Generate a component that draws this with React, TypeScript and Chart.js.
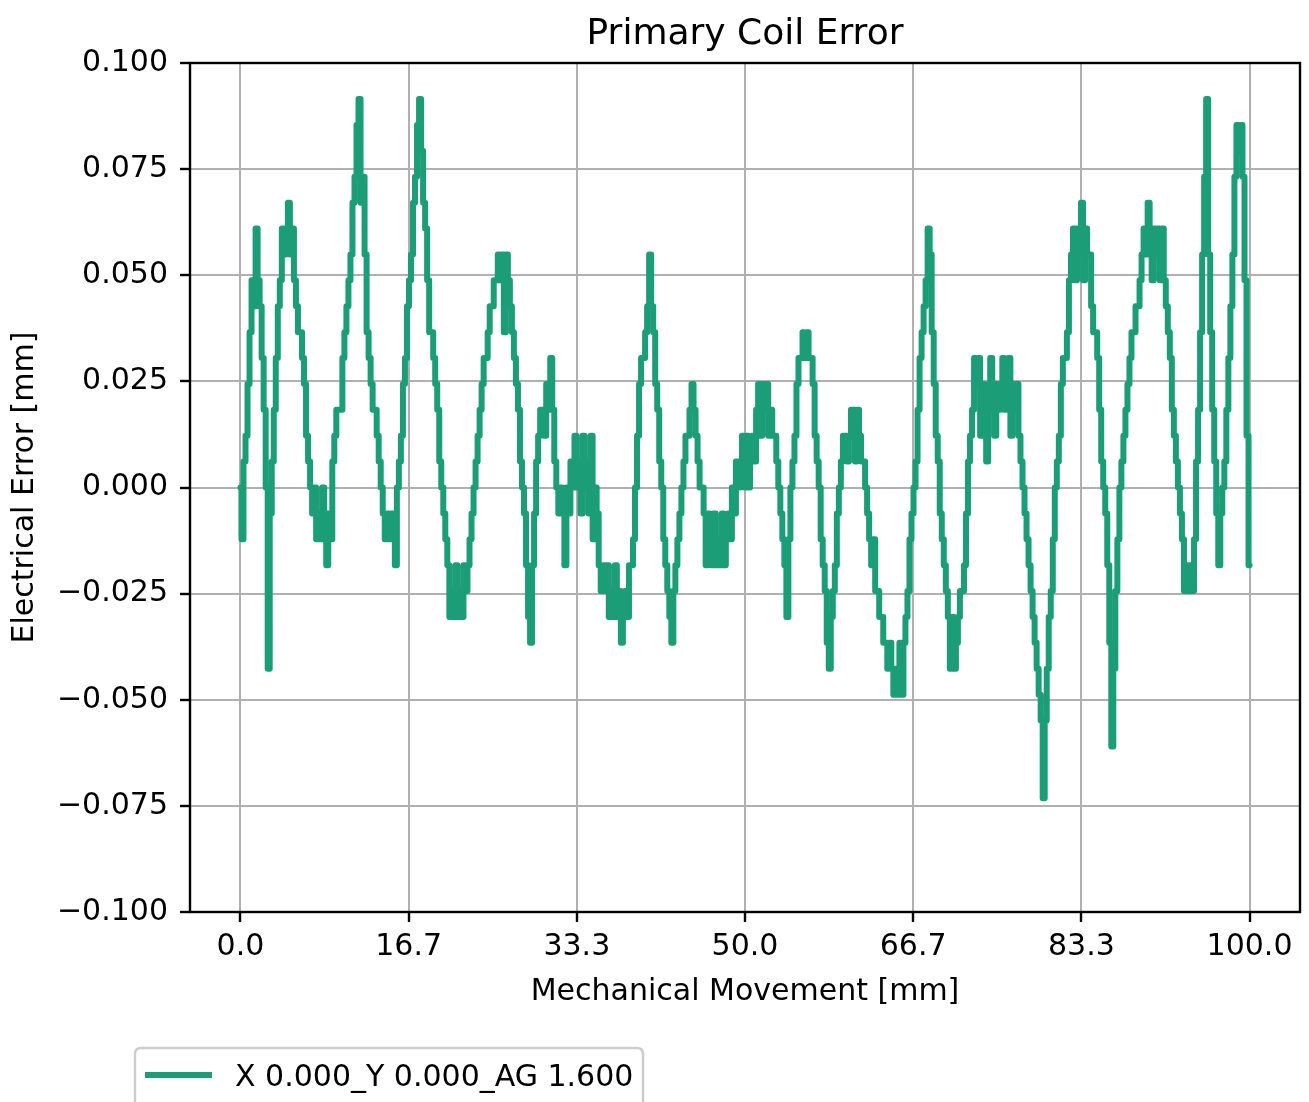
import React, { useEffect, useRef } from "react";
import { Chart, registerables } from "chart.js";

Chart.register(...registerables);

const CHART_TITLE = "Primary Coil Error";
const X_AXIS_TITLE = "Mechanical Movement [mm]";
const Y_AXIS_TITLE = "Electrical Error [mm]";
const SERIES_LABEL = "X 0.000_Y 0.000_AG 1.600";
const SERIES_COLOR = "#1b9e77";
const SAMPLE_STEP_MM = 0.2;

const xTickValues = [0, 16.6667, 33.3333, 50, 66.6667, 83.3333, 100];
const xTickLabels = ["0.0", "16.7", "33.3", "50.0", "66.7", "83.3", "100.0"];
const yTickValues = [-0.1, -0.075, -0.05, -0.025, 0, 0.025, 0.05, 0.075, 0.1];
const yTickLabels = ["\u22120.100", "\u22120.075", "\u22120.050", "\u22120.025", "0.000", "0.025", "0.050", "0.075", "0.100"];

// Electrical error [mm], sampled every 0.2 mm of mechanical movement
const error00to10 = [0, -0.0122, 0.0061, 0.0122, 0.0244, 0.0366, 0.0488, 0.0427, 0.061, 0.0488, 0.0427, 0.0305, 0.0183, 0, -0.0427, -0.0061, 0.0061, 0.0183, 0.0305, 0.0427, 0.0488, 0.061, 0.0549, 0.061, 0.0671, 0.0549, 0.061, 0.0488, 0.0427, 0.0366, 0.0366, 0.0305, 0.0244, 0.0122, 0.0061, 0, -0.0061, 0, -0.0122, -0.0061, -0.0122, 0, -0.0122, -0.0183, -0.0061, -0.0122, 0.0061, 0.0122, 0.0183, 0.0183];
const error10to20 = [0.0183, 0.0305, 0.0366, 0.0427, 0.0488, 0.0549, 0.0671, 0.0732, 0.0854, 0.0915, 0.0671, 0.0732, 0.0549, 0.0366, 0.0305, 0.0244, 0.0183, 0.0183, 0.0122, 0.0061, 0, -0.0061, -0.0122, -0.0061, -0.0122, -0.0061, -0.0122, -0.0183, 0, 0.0061, 0.0122, 0.0244, 0.0305, 0.0427, 0.0488, 0.0549, 0.0671, 0.0732, 0.0854, 0.0915, 0.0793, 0.0671, 0.061, 0.0488, 0.0366, 0.0366, 0.0305, 0.0244, 0.0183, 0.0061];
const error20to30 = [0, -0.0061, -0.0122, -0.0183, -0.0305, -0.0244, -0.0305, -0.0183, -0.0305, -0.0244, -0.0305, -0.0183, -0.0244, -0.0183, -0.0122, -0.0061, 0, 0.0061, 0.0122, 0.0183, 0.0244, 0.0305, 0.0305, 0.0366, 0.0427, 0.0427, 0.0488, 0.0488, 0.0549, 0.0488, 0.0549, 0.0366, 0.0549, 0.0488, 0.0427, 0.0366, 0.0305, 0.0244, 0.0183, 0.0061, 0, -0.0061, -0.0183, -0.0305, -0.0366, -0.0183, -0.0061, 0.0061, 0.0122, 0.0183];
const error30to40 = [0.0183, 0.0122, 0.0244, 0.0183, 0.0305, 0.0183, 0.0061, 0, -0.0061, 0, -0.0061, -0.0183, 0, -0.0061, 0.0061, 0, 0.0122, 0, 0.0061, -0.0061, 0.0122, 0, 0.0061, -0.0061, 0.0122, -0.0122, 0, -0.0061, -0.0183, -0.0244, -0.0183, -0.0244, -0.0183, -0.0305, -0.0244, -0.0305, -0.0183, -0.0305, -0.0244, -0.0366, -0.0305, -0.0244, -0.0305, -0.0183, -0.0183, -0.0122, 0, 0.0122, 0.0244, 0.0305];
const error40to50 = [0.0305, 0.0366, 0.0427, 0.0549, 0.0427, 0.0366, 0.0244, 0.0183, 0.0061, 0, -0.0122, -0.0183, -0.0244, -0.0305, -0.0366, -0.0244, -0.0183, -0.0122, -0.0061, 0, 0.0061, 0.0122, 0.0122, 0.0183, 0.0244, 0.0183, 0.0122, 0.0061, 0, 0, -0.0061, -0.0183, -0.0061, -0.0122, -0.0183, -0.0061, -0.0183, -0.0122, -0.0183, -0.0061, -0.0183, -0.0122, -0.0061, -0.0122, 0, -0.0061, 0.0061, 0, 0.0061, 0.0122];
const error50to60 = [0, 0.0122, 0, 0.0061, 0.0122, 0.0061, 0.0183, 0.0244, 0.0122, 0.0244, 0.0183, 0.0244, 0.0122, 0.0183, 0.0122, 0.0122, 0.0061, 0, -0.0061, -0.0122, -0.0183, -0.0305, -0.0122, 0, 0.0061, 0.0122, 0.0244, 0.0305, 0.0305, 0.0366, 0.0305, 0.0366, 0.0305, 0.0305, 0.0244, 0.0122, 0.0061, 0, -0.0122, -0.0183, -0.0244, -0.0366, -0.0427, -0.0305, -0.0244, -0.0183, -0.0061, 0, 0.0061, 0.0122];
const error60to70 = [0.0122, 0.0061, 0.0122, 0.0183, 0.0183, 0.0061, 0.0183, 0.0122, 0.0061, 0.0061, 0, -0.0061, -0.0122, -0.0183, -0.0122, -0.0244, -0.0244, -0.0305, -0.0305, -0.0366, -0.0366, -0.0427, -0.0366, -0.0427, -0.0488, -0.0427, -0.0488, -0.0366, -0.0488, -0.0366, -0.0305, -0.0244, -0.0122, -0.0061, 0, 0.0061, 0.0183, 0.0305, 0.0366, 0.0427, 0.0488, 0.061, 0.0549, 0.0366, 0.0244, 0.0122, 0.0061, -0.0061, -0.0122, -0.0183];
const error70to80 = [-0.0244, -0.0305, -0.0427, -0.0305, -0.0427, -0.0366, -0.0305, -0.0244, -0.0244, -0.0183, -0.0061, 0.0061, 0.0122, 0.0183, 0.0305, 0.0244, 0.0305, 0.0122, 0.0244, 0.0183, 0.0061, 0.0244, 0.0305, 0.0183, 0.0122, 0.0244, 0.0183, 0.0244, 0.0305, 0.0183, 0.0244, 0.0305, 0.0122, 0.0244, 0.0183, 0.0244, 0.0122, 0.0061, 0, -0.0061, -0.0122, -0.0183, -0.0244, -0.0305, -0.0366, -0.0427, -0.0488, -0.0549, -0.0732, -0.0549];
const error80to90 = [-0.0427, -0.0305, -0.0244, -0.0122, 0, 0.0061, 0.0122, 0.0244, 0.0305, 0.0305, 0.0366, 0.0488, 0.0549, 0.061, 0.0488, 0.061, 0.0549, 0.0671, 0.0488, 0.061, 0.0549, 0.0549, 0.0427, 0.0366, 0.0366, 0.0305, 0.0183, 0.0061, 0, -0.0061, -0.0183, -0.0366, -0.061, -0.0427, -0.0244, -0.0122, 0, 0.0061, 0.0122, 0.0183, 0.0244, 0.0305, 0.0366, 0.0366, 0.0427, 0.0427, 0.0488, 0.0549, 0.061, 0.0549];
const error90to100 = [0.0671, 0.061, 0.0488, 0.061, 0.0549, 0.061, 0.0488, 0.061, 0.0488, 0.0427, 0.0366, 0.0305, 0.0183, 0.0122, 0.0061, 0, -0.0061, -0.0122, -0.0244, -0.0183, -0.0244, -0.0183, -0.0244, -0.0122, 0.0061, 0.0183, 0.0366, 0.0549, 0.0732, 0.0915, 0.0549, 0.0366, 0.0183, 0.0061, -0.0061, -0.0183, -0.0061, 0, 0.0061, 0.0183, 0.0305, 0.0427, 0.0549, 0.0732, 0.0854, 0.0793, 0.0854, 0.0732, 0.0488, 0.0122, -0.0183];

const FONT = "'DejaVu Sans', sans-serif";

export default function App() {
  const canvasRef = useRef<HTMLCanvasElement | null>(null);

  useEffect(() => {
    const canvas = canvasRef.current;
    if (!canvas) return;

    const errorValues = [
      ...error00to10, ...error10to20, ...error20to30, ...error30to40, ...error40to50,
      ...error50to60, ...error60to70, ...error70to80, ...error80to90, ...error90to100,
    ];
    const points = errorValues.map((y, i) => ({ x: i * SAMPLE_STEP_MM, y }));

    const decorPlugin = {
      id: "mplDecor",
      afterDraw(chart: any) {
        const { ctx, chartArea } = chart;
        const { left, right, top, bottom } = chartArea;
        ctx.save();
        ctx.strokeStyle = "#000";
        ctx.lineWidth = 2.4;
        ctx.strokeRect(left, top, right - left, bottom - top);
        ctx.fillStyle = "#000";
        ctx.font = `36px ${FONT}`;
        ctx.textAlign = "center";
        ctx.textBaseline = "alphabetic";
        ctx.fillText(CHART_TITLE, (left + right) / 2, 44);
        const lx = 135, ly = 1048, lw = 508, lh = 90, r = 6;
        ctx.beginPath();
        ctx.moveTo(lx + r, ly);
        ctx.lineTo(lx + lw - r, ly);
        ctx.quadraticCurveTo(lx + lw, ly, lx + lw, ly + r);
        ctx.lineTo(lx + lw, ly + lh - r);
        ctx.quadraticCurveTo(lx + lw, ly + lh, lx + lw - r, ly + lh);
        ctx.lineTo(lx + r, ly + lh);
        ctx.quadraticCurveTo(lx, ly + lh, lx, ly + lh - r);
        ctx.lineTo(lx, ly + r);
        ctx.quadraticCurveTo(lx, ly, lx + r, ly);
        ctx.closePath();
        ctx.fillStyle = "rgba(255,255,255,0.8)";
        ctx.fill();
        ctx.strokeStyle = "#cccccc";
        ctx.lineWidth = 2.4;
        ctx.stroke();
        const ds = chart.data.datasets[0];
        ctx.beginPath();
        ctx.moveTo(145, 1075);
        ctx.lineTo(212, 1075);
        ctx.strokeStyle = ds.borderColor;
        ctx.lineWidth = 6;
        ctx.lineCap = "butt";
        ctx.stroke();
        ctx.fillStyle = "#000";
        ctx.font = `30px ${FONT}`;
        ctx.textAlign = "left";
        ctx.textBaseline = "alphabetic";
        ctx.fillText(ds.label, 235, 1086);
        ctx.restore();
      },
    };

    const chart = new Chart(canvas, {
      type: "line",
      data: {
        datasets: [
          {
            label: SERIES_LABEL,
            data: points,
            borderColor: SERIES_COLOR,
            backgroundColor: SERIES_COLOR,
            borderWidth: 6,
            borderJoinStyle: "round",
            borderCapStyle: "round",
            stepped: "middle",
            pointRadius: 0,
            tension: 0,
            fill: false,
          },
        ],
      },
      options: {
        responsive: false,
        animation: false,
        layout: { padding: { top: 63, right: 9, bottom: 92, left: 0 } },
        plugins: {
          legend: { display: false },
          title: { display: false },
          tooltip: { enabled: false },
        },
        scales: {
          x: {
            type: "linear",
            min: -5,
            max: 105,
            afterBuildTicks: (scale: any) => {
              scale.ticks = xTickValues.map((v) => ({ value: v }));
            },
            afterFit: (scale: any) => {
              scale.height = 98;
            },
            ticks: {
              autoSkip: false,
              maxRotation: 0,
              padding: 7,
              color: "#000",
              font: { family: FONT, size: 30 },
              callback: (_v: any, i: number) => xTickLabels[i],
            },
            grid: {
              color: "#b0b0b0",
              lineWidth: 2,
              drawTicks: true,
              tickLength: 10,
              tickColor: "#000",
              tickWidth: 2.4,
            },
            border: { display: false },
            title: {
              display: true,
              text: X_AXIS_TITLE,
              color: "#000",
              font: { family: FONT, size: 30 },
              padding: { top: 0, bottom: 0 },
            },
          },
          y: {
            type: "linear",
            min: -0.1,
            max: 0.1,
            afterBuildTicks: (scale: any) => {
              scale.ticks = yTickValues.map((v) => ({ value: v }));
            },
            afterFit: (scale: any) => {
              scale.width = 190;
            },
            ticks: {
              autoSkip: false,
              padding: 12,
              color: "#000",
              font: { family: FONT, size: 30 },
              callback: (_v: any, i: number) => yTickLabels[i],
            },
            grid: {
              color: "#b0b0b0",
              lineWidth: 2,
              drawTicks: true,
              tickLength: 10,
              tickColor: "#000",
              tickWidth: 2.4,
            },
            border: { display: false },
            title: {
              display: true,
              text: Y_AXIS_TITLE,
              color: "#000",
              font: { family: FONT, size: 30 },
              padding: { top: 7, bottom: 0 },
            },
          },
        },
      },
      plugins: [decorPlugin],
    } as any);

    return () => {
      chart.destroy();
    };
  }, []);

  return (
    <div style={{ position: "absolute", left: 0, top: 0, width: 1309, height: 1102, background: "#fff" }}>
      <canvas ref={canvasRef} width={1309} height={1102} style={{ display: "block", width: 1309, height: 1102 }} />
    </div>
  );
}
